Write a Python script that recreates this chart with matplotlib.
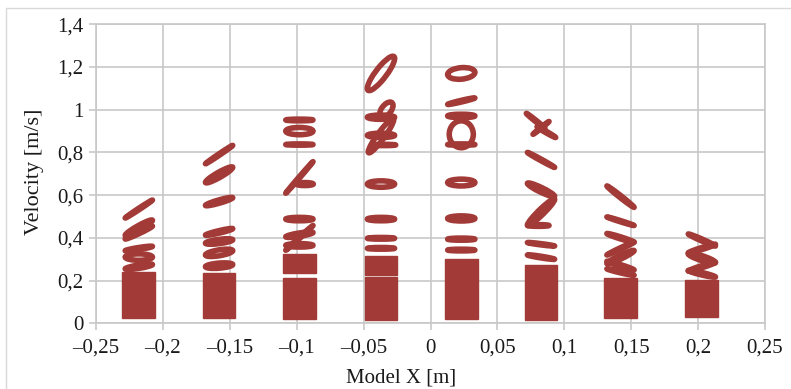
import matplotlib
matplotlib.use("Agg")
import matplotlib.pyplot as plt
from matplotlib.path import Path
from matplotlib.patches import PathPatch, Rectangle
from matplotlib.transforms import Affine2D

plt.rcParams['font.family'] = ['Liberation Serif', 'DejaVu Serif']

# ---------------- data ----------------
x_ticks = [-0.25, -0.2, -0.15, -0.1, -0.05, 0.0, 0.05, 0.1, 0.15, 0.2, 0.25]
x_tick_labels = ['\u20130,25', '\u20130,2', '\u20130,15', '\u20130,1', '\u20130,05',
                 '0', '0,05', '0,1', '0,15', '0,2', '0,25']
y_ticks = [0, 0.2, 0.4, 0.6, 0.8, 1.0, 1.2, 1.4]
y_tick_labels = ['0', '0,2', '0,4', '0,6', '0,8', '1', '1,2', '1,4']

# measurement positions (Model X, m)
group_x = [-0.218, -0.158, -0.098, -0.037, 0.023, 0.0826, 0.142, 0.2028]

# dense (saturated) velocity bands per position
block_group = [0, 1, 2, 2, 3, 3, 4, 5, 6, 7]
block_bottom = [0.025, 0.025, 0.020, 0.235, 0.016, 0.226, 0.020, 0.016, 0.023, 0.031]
block_top = [0.240, 0.235, 0.210, 0.325, 0.218, 0.315, 0.300, 0.273, 0.210, 0.203]

# velocity orbits: group, centre velocity, half height, tilt, half width, x offset
loop_group = [0, 0, 0, 0, 0, 0,
              1, 1, 1, 1, 1, 1, 1,
              2, 2, 2, 2, 2, 2, 2, 2, 2,
              3, 3, 3, 3, 3, 3, 3, 3, 3, 3,
              4, 4, 4, 4, 4, 4, 4, 4, 4,
              5, 5, 5, 5, 5, 5, 5, 5, 5,
              6, 6, 6, 6, 6, 6, 6,
              7, 7, 7, 7, 7]
loop_v = [0.535, 0.447, 0.425, 0.350, 0.310, 0.265,
          0.790, 0.695, 0.570, 0.428, 0.383, 0.330, 0.270,
          0.952, 0.900, 0.837, 0.683, 0.652, 0.488, 0.400, 0.415, 0.365,
          1.170, 0.965, 1.000, 0.878, 0.835, 0.652, 0.488, 0.398, 0.351, 0.880,
          1.170, 1.040, 0.971, 0.885, 0.837, 0.659, 0.491, 0.394, 0.343,
          0.948, 0.915, 0.895, 0.765, 0.625, 0.520, 0.458, 0.370, 0.310,
          0.593, 0.478, 0.400, 0.350, 0.310, 0.270, 0.240,
          0.390, 0.350, 0.305, 0.265, 0.232]
loop_half_h = [0.004, 0.012, 0.006, 0.005, 0.015, 0.008,
               0.004, 0.014, 0.008, 0.006, 0.010, 0.014, 0.012,
               0.004, 0.017, 0.003, 0.004, 0.007, 0.008, 0.004, 0.008, 0.008,
               0.040, 0.010, 0.030, 0.028, 0.003, 0.015, 0.008, 0.004, 0.004, 0.010,
               0.027, 0.004, 0.008, 0.063, 0.003, 0.016, 0.012, 0.005, 0.004,
               0.004, 0.003, 0.004, 0.004, 0.012, 0.018, 0.004, 0.003, 0.004,
               0.006, 0.003, 0.005, 0.004, 0.010, 0.005, 0.004,
               0.005, 0.005, 0.012, 0.005, 0.006]
loop_tilt = [0.042, 0.035, 0.030, 0.010, 0.000, 0.010,
             0.043, 0.035, 0.018, 0.015, 0.008, 0.010, 0.005,
             0.000, 0.000, 0.000, 0.074, 0.000, 0.000, 0.058, 0.010, 0.000,
             0.070, 0.000, 0.020, 0.075, 0.000, 0.000, 0.000, 0.000, 0.000, 0.000,
             0.005, 0.015, 0.000, 0.000, 0.000, 0.000, 0.000, 0.000, 0.000,
             -0.035, 0.030, -0.025, -0.035, -0.030, 0.060, 0.000, -0.008, -0.010,
             -0.050, -0.020, -0.020, 0.030, 0.030, -0.020, -0.015,
             -0.028, 0.020, -0.020, 0.020, -0.015]
loop_half_w = [0.0102] * 6 + [0.0102] * 7 + \
              [0.0102, 0.0102, 0.0102, 0.0102, 0.0064, 0.0102, 0.0102, 0.0102, 0.0102] + \
              [0.0102, 0.0102, 0.0050, 0.0095, 0.0090, 0.0102, 0.0102, 0.0102, 0.0102, 0.0102] + \
              [0.0102, 0.0102, 0.0102, 0.0090, 0.0102, 0.0102, 0.0102, 0.0102, 0.0102] + \
              [0.0070, 0.0060, 0.0070, 0.0102, 0.0102, 0.0102, 0.0080, 0.0102, 0.0102] + \
              [0.0102, 0.0102, 0.0102, 0.0102, 0.0102, 0.0102, 0.0102] + \
              [0.0102, 0.0102, 0.0102, 0.0102, 0.0102]
loop_dx = [0.0] * 6 + [0.0] * 7 + \
          [0.0, 0.0, 0.0, 0.0, 0.004, 0.0, 0.0, 0.0, 0.0] + \
          [0.0, 0.0, 0.004, 0.0, 0.002, 0.0, 0.0, 0.0, 0.0, 0.0] + \
          [0.0] * 9 + \
          [-0.004, 0.0, 0.004, 0.0, 0.0, 0.0, -0.002, 0.0, 0.0] + \
          [0.0] * 7 + \
          [0.0] * 5

# ---------------- style ----------------
RED = '#A23B37'
GRID = '#c8c8c8'
LW = 4.0
BAR_W = 0.0245

fig = plt.figure(figsize=(7.91, 3.89), dpi=100)
fig.patch.set_facecolor('white')
ax = fig.add_axes([96 / 791, 1 - 323.3 / 389, (765 - 96) / 791, (323.3 - 24.3) / 389])

# outer frame of the figure
fig.patches.append(Rectangle((6 / 791, -0.1), 1.2, 1.1 - 8 / 389, transform=fig.transFigure,
                             fill=False, edgecolor='#d9d9d9', linewidth=1.0))

ax.set_xlim(-0.25, 0.25)
ax.set_ylim(0, 1.4)
ax.set_xticks(x_ticks)
ax.set_xticklabels(x_tick_labels)
ax.set_yticks(y_ticks)
ax.set_yticklabels(y_tick_labels)
ax.grid(True, color=GRID, linewidth=1.2)
ax.set_axisbelow(True)
for s in ax.spines.values():
    s.set_color(GRID)
    s.set_linewidth(1.2)
ax.tick_params(axis='both', direction='out', length=5, width=1.2, color=GRID,
               labelsize=15, labelcolor='#1a1a1a')
ax.tick_params(axis='x', pad=6)
ax.tick_params(axis='y', pad=4)

# dense bands
bx = [group_x[g] for g in block_group]
bh = [t - b for t, b in zip(block_top, block_bottom)]
ax.bar(bx, bh, bottom=block_bottom, width=BAR_W, color=RED, edgecolor=RED,
       linewidth=1.0, zorder=3)

# orbits
circle = Path.unit_circle()
for g, v, hh, tl, hw, dx in zip(loop_group, loop_v, loop_half_h, loop_tilt, loop_half_w, loop_dx):
    xc = group_x[g] + dx
    m = Affine2D.from_values(hw, tl, 0.0, hh, xc, v)
    patch = PathPatch(circle, transform=m + ax.transData, fill=False,
                      edgecolor=RED, linewidth=LW, joinstyle='round', capstyle='round',
                      zorder=4)
    ax.add_patch(patch)

fig.text(35 / 791, 1 - 172 / 389, 'Velocity [m/s]', rotation=90, ha='center', va='center',
         fontsize=16, color='#1a1a1a')
fig.text(401 / 791, 1 - 378 / 389, 'Model X [m]', ha='center', va='center',
         fontsize=15, color='#1a1a1a')

fig.savefig('out.png', dpi=100, facecolor='white')
